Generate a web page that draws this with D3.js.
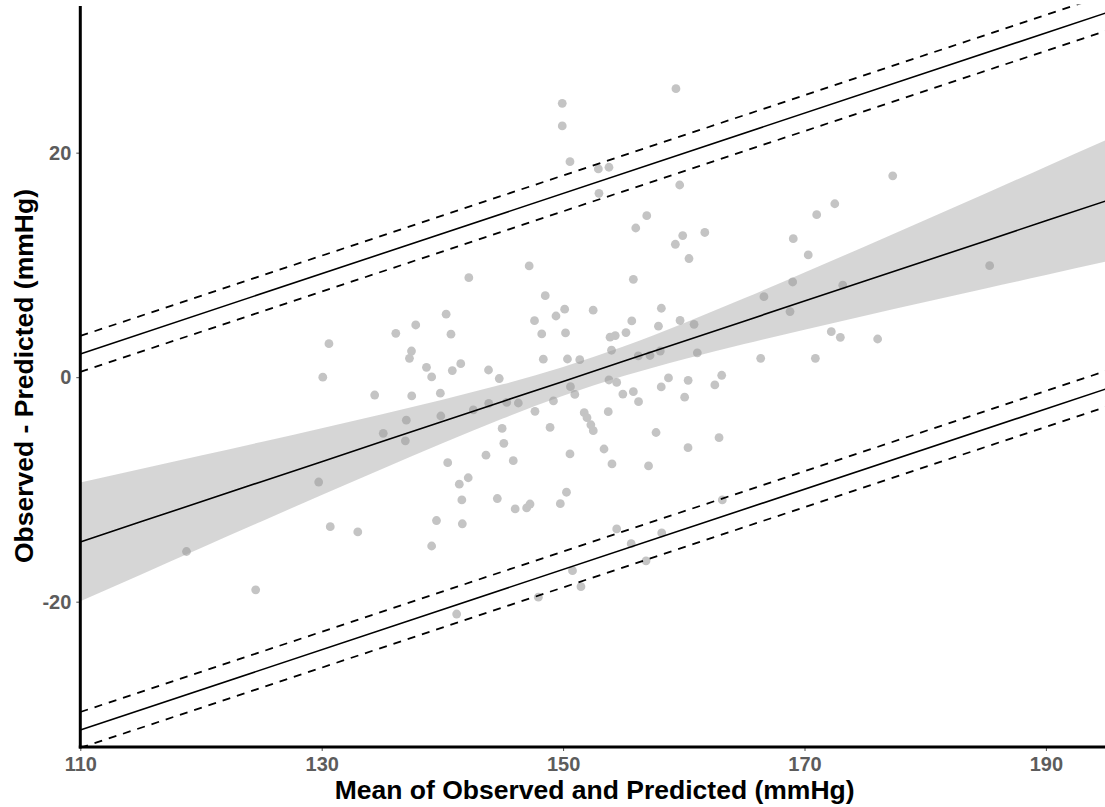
<!DOCTYPE html>
<html>
<head>
<meta charset="utf-8">
<script src="https://cdn.jsdelivr.net/npm/d3@7"></script>
<style>
  html, body { margin: 0; padding: 0; background: #ffffff; }
  svg { display: block; }
</style>
</head>
<body>
<svg id="chart" width="1105" height="807"></svg>
<script>
// ---- Data ----
const meanValues = [
  118.80,124.53,129.75,130.09,130.60,130.71,132.99,134.39,135.10,136.14,
  136.93,137.01,137.27,137.44,137.46,137.79,138.68,139.11,139.11,139.51,
  139.83,139.87,140.31,140.44,140.71,140.82,141.18,141.40,141.52,141.61,
  141.65,142.14,142.19,142.56,143.61,143.82,143.84,144.55,144.71,144.95,
  145.09,145.33,145.87,146.03,146.29,146.98,147.19,147.26,147.63,147.67,
  147.95,148.23,148.36,148.52,148.92,149.20,149.41,149.77,149.93,149.93,
  150.13,150.20,150.28,150.36,150.57,150.57,150.61,150.78,150.97,151.38,
  151.48,151.75,151.98,152.30,152.50,152.49,152.92,152.97,153.39,153.74,
  153.80,153.80,154.44,154.01,154.05,154.32,153.89,154.44,154.95,155.21,
  155.64,155.69,155.82,155.82,156.02,156.23,156.25,156.87,156.93,157.08,
  157.20,157.70,157.90,158.05,158.14,158.13,158.17,158.73,159.30,159.35,
  159.66,159.69,159.91,160.07,160.36,160.35,160.43,160.85,161.12,161.74,
  162.57,162.92,163.14,163.19,166.37,166.64,168.80,169.02,169.07,170.31,
  170.90,171.01,172.22,172.51,172.97,173.17,176.06,177.31,185.34
];
const diffValues = [
  -15.53,-18.94,-9.34,0.00,2.98,-13.32,-13.79,-1.59,-5.00,3.91,
  -5.67,-3.83,1.68,2.33,-1.67,4.65,0.88,0.02,-15.04,-12.77,
  -1.43,-3.46,5.61,-7.62,3.83,0.59,-21.10,-9.53,1.20,-10.94,
  -13.06,-8.96,8.86,-2.92,-6.95,0.64,-2.33,-10.81,-0.12,-4.57,
  -5.89,-2.25,-7.44,-11.74,-2.30,-11.65,9.91,-11.30,5.03,-3.04,
  -19.60,3.85,1.60,7.26,-4.48,-2.12,5.45,-11.27,24.40,22.38,
  6.06,3.94,-10.25,1.62,19.20,-6.84,-0.85,-17.24,-1.54,1.56,
  -18.66,-3.16,-3.61,-4.24,-4.77,5.97,18.55,16.38,-6.40,-3.07,
  18.70,-0.25,-0.47,2.40,-7.73,3.71,3.56,-13.52,-1.51,3.97,
  -14.83,5.01,8.72,-1.29,13.29,1.89,-2.18,-16.36,14.39,-7.91,
  1.93,-4.93,4.54,2.33,6.14,-0.87,-13.88,-0.07,11.84,25.70,
  17.12,5.05,12.61,-1.78,-0.28,-6.28,10.57,4.71,2.17,12.89,
  -0.69,-5.39,0.17,-10.94,1.68,7.17,5.84,8.48,12.34,10.89,
  1.68,14.48,4.05,15.45,3.55,8.20,3.40,17.94,9.93
];

// regression fit with its confidence band
const bandX     = [110,115,120,125,130,135,140,145,150,155,160,165,170,175,180,185,190,195];
const bandFit   = [-14.68,-12.89,-11.10,-9.31,-7.53,-5.74,-3.95,-2.16,-0.38,1.41,3.20,4.99,6.78,8.56,10.35,12.14,13.93,15.71];
const bandLower = [-19.97,-17.60,-15.22,-12.85,-10.50,-8.18,-5.89,-3.69,-1.66,0.10,1.60,2.95,4.23,5.47,6.70,7.90,9.10,10.30];
const bandUpper = [-9.38,-8.18,-6.98,-5.77,-4.55,-3.30,-2.01,-0.64,0.91,2.73,4.80,7.02,9.32,11.65,14.01,16.37,18.75,21.13];

// limits of agreement (solid) and their confidence limits (dashed), at x = 110 and 195
const loaX        = [110, 195];
const upperLoA    = [2.07, 32.46];
const upperLoAHi  = [3.67, 34.06];
const upperLoALo  = [0.47, 30.86];
const lowerLoA    = [-31.43, -1.04];
const lowerLoAHi  = [-29.83, 0.56];
const lowerLoALo  = [-33.03, -2.64];

const xTicks = [110, 130, 150, 170, 190];
const yTicks = [-20, 0, 20];
const xTitle = "Mean of Observed and Predicted (mmHg)";
const yTitle = "Observed - Predicted (mmHg)";

// ---- Layout ----
const svg = d3.select("#chart");
const W = 1105, H = 807;
const panel = { left: 80.3, right: 1105, top: 4.5, bottom: 747.6 };

const x = d3.scaleLinear().domain([110, 195]).range([80.3, 1106.25]);
const y = d3.scaleLinear().domain([-33, 33.2]).range([747.6, 4.5]);

svg.append("defs").append("clipPath").attr("id", "clip")
  .append("rect")
  .attr("x", panel.left).attr("y", panel.top)
  .attr("width", panel.right - panel.left)
  .attr("height", panel.bottom - panel.top);

const plot = svg.append("g").attr("clip-path", "url(#clip)");

// points
const pts = meanValues.map((m, i) => ({ m, d: diffValues[i] }));
plot.append("g").selectAll("circle").data(pts).join("circle")
  .attr("cx", p => x(p.m))
  .attr("cy", p => y(p.d))
  .attr("r", 4.4)
  .attr("fill", "#c4c4c4");

// confidence ribbon
const band = bandX.map((v, i) => ({ x: v, lo: bandLower[i], hi: bandUpper[i], fit: bandFit[i] }));
plot.append("path").datum(band)
  .attr("d", d3.area().x(d => x(d.x)).y0(d => y(d.lo)).y1(d => y(d.hi)).curve(d3.curveMonotoneX))
  .attr("fill", "#999999")
  .attr("fill-opacity", 0.4);

// regression line
plot.append("path").datum(band)
  .attr("d", d3.line().x(d => x(d.x)).y(d => y(d.fit)))
  .attr("fill", "none").attr("stroke", "#000").attr("stroke-width", 1.6);

// LoA lines
const loaLine = d3.line().x(d => x(d[0])).y(d => y(d[1]));
function drawLine(vals, dashed) {
  plot.append("path")
    .datum(loaX.map((v, i) => [v, vals[i]]))
    .attr("d", loaLine)
    .attr("fill", "none")
    .attr("stroke", "#000")
    .attr("stroke-width", dashed ? 1.8 : 1.6)
    .attr("stroke-dasharray", dashed ? "8,7" : null);
}
drawLine(upperLoA, false);
drawLine(upperLoAHi, true);
drawLine(upperLoALo, true);
drawLine(lowerLoA, false);
drawLine(lowerLoAHi, true);
drawLine(lowerLoALo, true);

// axes
const fontFam = "'Liberation Sans', Arial, Helvetica, sans-serif";
const fmt = d => String(d);
const gx = svg.append("g").attr("transform", `translate(0,${panel.bottom - 0.6})`)
  .call(d3.axisBottom(x).tickValues(xTicks).tickFormat(fmt).tickSize(4).tickPadding(6).tickSizeOuter(0));
const gy = svg.append("g").attr("transform", `translate(${panel.left},0)`)
  .call(d3.axisLeft(y).tickValues(yTicks).tickFormat(fmt).tickSize(4).tickPadding(5).tickSizeOuter(0));

[gx, gy].forEach(g => {
  g.select(".domain").remove();
  g.selectAll(".tick line").attr("stroke", "#4d4d4d").attr("stroke-width", 1);
  g.selectAll(".tick text")
    .attr("fill", "#5c5c5c")
    .style("font-family", fontFam)
    .style("font-weight", "bold")
    .style("font-size", "20px");
});

// axis lines
svg.append("line")
  .attr("x1", panel.left).attr("x2", panel.left)
  .attr("y1", 6).attr("y2", panel.bottom + 0.9)
  .attr("stroke", "#000").attr("stroke-width", 3);
svg.append("line")
  .attr("x1", panel.left - 1.5).attr("x2", W)
  .attr("y1", panel.bottom - 0.6).attr("y2", panel.bottom - 0.6)
  .attr("stroke", "#000").attr("stroke-width", 3);

// titles
svg.append("text")
  .attr("x", (panel.left + panel.right) / 2 + 2)
  .attr("y", 799)
  .attr("text-anchor", "middle")
  .style("font-family", fontFam)
  .style("font-weight", "bold")
  .style("font-size", "26.5px")
  .attr("fill", "#000")
  .text(xTitle);

svg.append("text")
  .attr("transform", `translate(33,${(panel.top + panel.bottom) / 2}) rotate(-90)`)
  .attr("text-anchor", "middle")
  .style("font-family", fontFam)
  .style("font-weight", "bold")
  .style("font-size", "26.5px")
  .attr("fill", "#000")
  .text(yTitle);
</script>
</body>
</html>
